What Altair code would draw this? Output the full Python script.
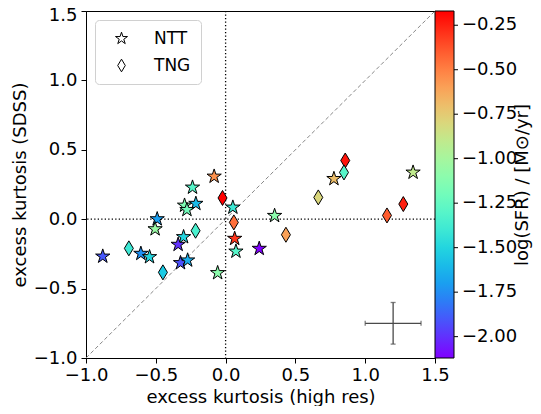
import math
import altair as alt
import pandas as pd

# ---- data ----
ntt_x = [-0.082, -0.237, 0.052, -0.213, -0.294, -0.277, -0.490, -0.505, 0.065, -0.301,
         -0.340, 0.074, 0.241, -0.880, -0.607, -0.545, -0.323, -0.272, -0.057, 0.776,
         1.343, 0.351]
ntt_y = [0.308, 0.229, 0.085, 0.112, 0.099, 0.068, 0.001, -0.071, -0.140, -0.128,
         -0.183, -0.232, -0.212, -0.268, -0.248, -0.272, -0.315, -0.296, -0.387, 0.291,
         0.337, 0.025]
ntt_sfr = [-0.55, -1.30, -1.40, -1.60, -1.15, -1.20, -1.70, -1.05, -0.30, -1.50,
           -2.00, -1.30, -2.12, -1.90, -1.75, -1.50, -1.92, -1.65, -1.10, -0.70,
           -0.90, -1.10]

tng_x = [-0.022, 0.059, -0.215, -0.693, -0.449, 0.857, 0.848, 0.664, 1.273, 1.156, 0.432]
tng_y = [0.153, -0.023, -0.083, -0.210, -0.383, 0.423, 0.337, 0.157, 0.109, 0.027, -0.112]
tng_sfr = [-0.17, -0.45, -1.35, -1.40, -1.55, -0.22, -1.30, -0.80, -0.25, -0.40, -0.60]

diag = [-1.0, 1.5]
err_x, err_y, err_dx, err_dy = [1.2], [-0.75], [0.2], [0.15]

x_ticks = [-1.0, -0.5, 0.0, 0.5, 1.0, 1.5]
cbar_ticks = [-2.0, -1.75, -1.5, -1.25, -1.0, -0.75, -0.5, -0.25]
sfr_domain = [-2.12, -0.17]
rainbow = ["#8000ff", "#4d4ffc", "#1a96f2", "#1acee3", "#4df3ce", "#80ffb4",
           "#b3f396", "#e6ce74", "#ff964f", "#ff4f28", "#ff0000"]

# ---- marker paths ----
pts = []
for k in range(10):
    r = 1.0 if k % 2 == 0 else 0.382
    a = math.radians(-90 + k * 36)
    pts.append(f"{r*math.cos(a):.3f},{r*math.sin(a):.3f}")
star_path = "M" + "L".join(pts) + "Z"
diamond_path = "M0,-1L0.6,0L0,1L-0.6,0Z"

df = pd.DataFrame({
    "x": ntt_x + tng_x,
    "y": ntt_y + tng_y,
    "sfr": ntt_sfr + tng_sfr,
    "sample": ["NTT"] * len(ntt_x) + ["TNG"] * len(tng_x),
})

font = "DejaVu Sans"
xs = alt.Scale(domain=[-1, 1.5], nice=False, zero=False)
ys = alt.Scale(domain=[-1, 1.5], nice=False, zero=False)

xax = alt.Axis(values=x_ticks, format=".1f", title="excess kurtosis (high res)",
               grid=False, tickSize=5, labelPadding=3, titlePadding=4, labelFlush=False)
yax = alt.Axis(values=x_ticks, format=".1f", title="excess kurtosis (SDSS)",
               grid=False, tickSize=5, labelPadding=4, titlePadding=4, labelFlush=False,
               labelOffset={"condition": {"test": "datum.value == 1.5", "value": 4},
                            "value": 0})

base = alt.Chart(df)

diag_line = alt.Chart(pd.DataFrame({"x": diag, "y": diag})).mark_line(
    color="#888888", strokeWidth=1, strokeDash=[4, 2.5]
).encode(x=alt.X("x:Q", scale=xs, axis=xax), y=alt.Y("y:Q", scale=ys, axis=yax))

vline = alt.Chart(pd.DataFrame({"v": [0.0]})).mark_rule(
    color="black", strokeWidth=1.3, strokeDash=[1.3, 2.2]
).encode(x=alt.X("v:Q", scale=xs))
hline = alt.Chart(pd.DataFrame({"v": [0.0]})).mark_rule(
    color="black", strokeWidth=1.3, strokeDash=[1.3, 2.2]
).encode(y=alt.Y("v:Q", scale=ys))

points = base.mark_point(filled=True, stroke="black", strokeWidth=1, opacity=1,
                         fillOpacity=1, size=225).encode(
    x=alt.X("x:Q", scale=xs),
    y=alt.Y("y:Q", scale=ys),
    fill=alt.Fill("sfr:Q",
                  scale=alt.Scale(domain=sfr_domain, range=rainbow, interpolate="rgb"),
                  legend=alt.Legend(orient="none", legendX=349, legendY=0,
                                    direction="vertical", title=None,
                                    gradientLength=347, gradientThickness=19,
                                    gradientStrokeColor="black", gradientStrokeWidth=1,
                                    values=cbar_ticks, format=".2f",
                                    labelFontSize=18, labelFont=font, labelColor="black",
                                    labelOffset=8, labelOverlap=False)),
    shape=alt.Shape("sample:N",
                    scale=alt.Scale(domain=["NTT", "TNG"], range=[star_path, diamond_path]),
                    legend=alt.Legend(orient="none", legendX=9, legendY=9, title=None,
                                      padding=10, strokeColor="#d0d0d0", cornerRadius=4,
                                      fillColor="white", labelFontSize=17, labelFont=font,
                                      labelColor="black", labelOffset=24, symbolOffset=8,
                                      symbolSize=160, symbolFillColor="white",
                                      symbolStrokeColor="black", symbolStrokeWidth=1,
                                      rowPadding=9)),
)

# colorbar tick marks (positioned by a scale matching the colour domain)
cbt = alt.Chart(pd.DataFrame({"v": cbar_ticks})).mark_rule(
    color="black", strokeWidth=1
).encode(
    y=alt.Y("v:Q", scale=alt.Scale(domain=sfr_domain, nice=False, zero=False), axis=None),
    x=alt.value(367), x2=alt.value(372),
)

edf = pd.DataFrame({"x": err_x, "y": err_y, "dx": err_dx, "dy": err_dy})
eb = alt.Chart(edf).transform_calculate(
    x1="datum.x - datum.dx", x2="datum.x + datum.dx",
    y1="datum.y - datum.dy", y2="datum.y + datum.dy")
ecol = "#4a4a4a"
eh = eb.mark_rule(color=ecol, strokeWidth=1.3).encode(
    x=alt.X("x1:Q", scale=xs), x2="x2:Q", y=alt.Y("y:Q", scale=ys))
ev = eb.mark_rule(color=ecol, strokeWidth=1.3).encode(
    y=alt.Y("y1:Q", scale=ys), y2="y2:Q", x=alt.X("x:Q", scale=xs))
cap_l = eb.mark_tick(color=ecol, orient="vertical", size=5, thickness=1.3).encode(
    x=alt.X("x1:Q", scale=xs), y=alt.Y("y:Q", scale=ys))
cap_r = eb.mark_tick(color=ecol, orient="vertical", size=5, thickness=1.3).encode(
    x=alt.X("x2:Q", scale=xs), y=alt.Y("y:Q", scale=ys))
cap_b = eb.mark_tick(color=ecol, orient="horizontal", size=5, thickness=1.3).encode(
    x=alt.X("x:Q", scale=xs), y=alt.Y("y1:Q", scale=ys))
cap_t = eb.mark_tick(color=ecol, orient="horizontal", size=5, thickness=1.3).encode(
    x=alt.X("x:Q", scale=xs), y=alt.Y("y2:Q", scale=ys))

cbar_title = alt.Chart(pd.DataFrame({"t": ["log(SFR) / [M\u2299/yr]"]})).mark_text(
    angle=270, font=font, fontSize=18, color="black", align="center", baseline="middle"
).encode(x=alt.value(437), y=alt.value(174), text="t:N")

main = alt.layer(diag_line, vline, hline, points, eh, ev, cap_l, cap_r, cap_b, cap_t,
                 cbar_title).resolve_scale(fill="independent", shape="independent")

chart = alt.layer(main, cbt).resolve_scale(y="independent").properties(
    width=349, height=347,
    autosize=alt.AutoSizeParams(type="none"),
    padding={"left": 78, "top": 3, "right": 98, "bottom": 48},
).configure(font=font).configure_view(
    stroke="black", strokeWidth=1
).configure_axis(
    domainColor="black", tickColor="black", labelColor="black", titleColor="black",
    labelFontSize=18, titleFontSize=18, titleFontWeight="normal",
    labelFont=font, titleFont=font, domainWidth=1, tickWidth=1
)

chart.save("out.html", embed_options={"renderer": "svg", "actions": False})
